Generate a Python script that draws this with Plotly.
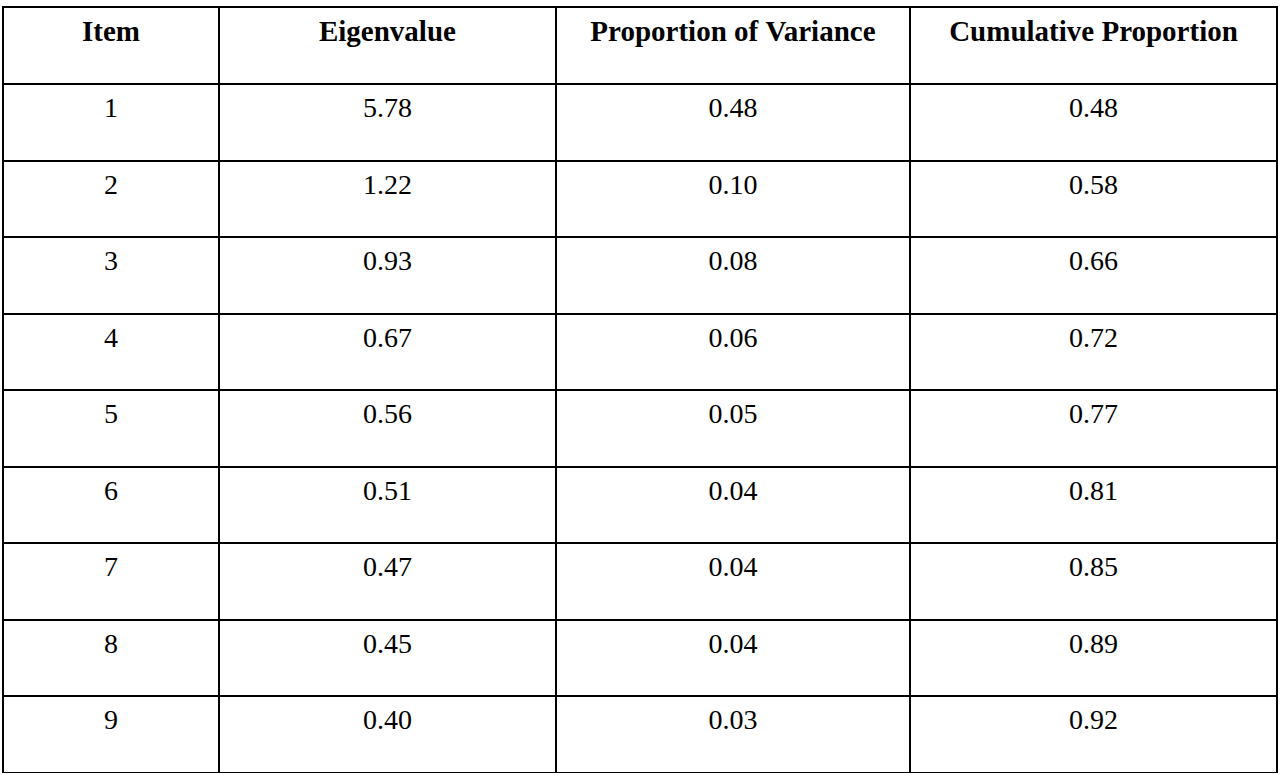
import plotly.graph_objects as go

headers = ["Item", "Eigenvalue", "Proportion of Variance", "Cumulative Proportion"]
items = ["1", "2", "3", "4", "5", "6", "7", "8", "9"]
eigenvalues = ["5.78", "1.22", "0.93", "0.67", "0.56", "0.51", "0.47", "0.45", "0.40"]
prop_variance = ["0.48", "0.10", "0.08", "0.06", "0.05", "0.04", "0.04", "0.04", "0.03"]
cum_proportion = ["0.48", "0.58", "0.66", "0.72", "0.77", "0.81", "0.85", "0.89", "0.92"]

header_vals = ["<b>%s</b>" % h.replace(" ", "\u00a0") for h in headers]
cell_vals = [["<span>%s</span>" % v for v in col]
             for col in (items, eigenvalues, prop_variance, cum_proportion)]

fig = go.Figure(go.Table(
    columnwidth=[216, 337, 354, 367],
    header=dict(
        values=header_vals,
        align="center",
        height=77,
        line=dict(color="black", width=2),
        fill=dict(color="white"),
        font=dict(family="Liberation Serif", size=29, color="black"),
    ),
    cells=dict(
        values=cell_vals,
        align="center",
        height=76.5,
        line=dict(color="black", width=2),
        fill=dict(color="white"),
        font=dict(family="Liberation Serif", size=28, color="black"),
    ),
    domain=dict(x=[0, 1], y=[0, 1]),
))

fig.update_layout(
    width=1280, height=776,
    margin=dict(l=3, r=3, t=7, b=3),
    paper_bgcolor="white",
)

fig.write_html("out.html", config={"displayModeBar": False},
               post_script="document.body.style.margin='0px';")
